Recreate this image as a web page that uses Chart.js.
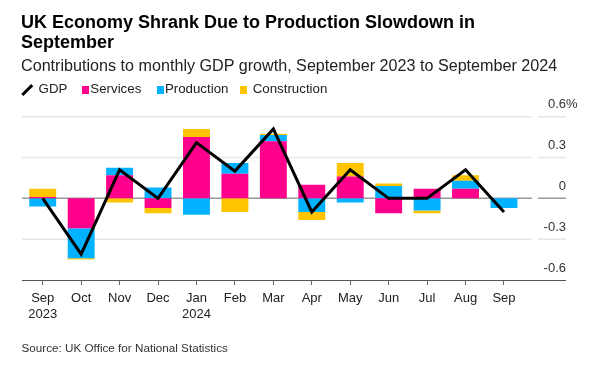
<!DOCTYPE html>
<html>
<head>
<meta charset="utf-8">
<script src="https://cdn.jsdelivr.net/npm/chart.js@4.4.1/dist/chart.umd.min.js"></script>
<style>
  html, body { margin: 0; padding: 0; background: #fff; }
  #wrap { position: relative; width: 599px; height: 366px; overflow: hidden; font-family: "Liberation Sans", Arial, sans-serif; color: #000; }
  #c { position: absolute; left: 0; top: 0; }
  .t { position: absolute; white-space: nowrap; }
  #title { left: 21px; top: 11.5px; font-size: 18px; line-height: 20px; font-weight: bold; }
  #sub { left: 21px; top: 55.6px; font-size: 16.15px; line-height: 19px; color: #222; }
  .lg { top: 81.4px; font-size: 13.3px; line-height: 16px; color: #222; }
  .sw { position: absolute; top: 86.2px; width: 7.7px; height: 7.7px; }
  #slash { position: absolute; left: 26.45px; top: 83.25px; width: 2.5px; height: 13.5px; background: #000; transform: rotate(45deg); }
  #src { left: 21.5px; top: 341px; font-size: 11.7px; line-height: 14px; color: #333; }
</style>
</head>
<body>
<div id="wrap">
  <canvas id="c" width="599" height="366"></canvas>
  <div class="t" id="title">UK Economy Shrank Due to Production Slowdown in<br>September</div>
  <div class="t" id="sub">Contributions to monthly GDP growth, September 2023 to September 2024</div>
  <div id="slash"></div>
  <div class="t lg" style="left:38.6px">GDP</div>
  <div class="sw" style="left:81.5px;background:#ff008c"></div>
  <div class="t lg" style="left:90.3px">Services</div>
  <div class="sw" style="left:156.5px;background:#00b2ff"></div>
  <div class="t lg" style="left:164.9px">Production</div>
  <div class="sw" style="left:239.8px;background:#ffc400"></div>
  <div class="t lg" style="left:252.7px">Construction</div>
  <div class="t" id="src">Source: UK Office for National Statistics</div>
</div>
<script>
const months = ["Sep", "Oct", "Nov", "Dec", "Jan", "Feb", "Mar", "Apr", "May", "Jun", "Jul", "Aug", "Sep"];
const years  = ["2023", "", "", "", "2024", "", "", "", "", "", "", "", ""];
const services     = [0.01, -0.22, 0.17, -0.07, 0.45, 0.18, 0.42, 0.10, 0.16, -0.11, 0.07, 0.07, 0.00];
const production   = [-0.06, -0.22, 0.055, 0.08, -0.12, 0.08, 0.045, -0.10, -0.03, 0.09, -0.09, 0.06, -0.07];
const construction = [0.06, -0.01, -0.03, -0.04, 0.06, -0.10, 0.01, -0.06, 0.10, 0.02, -0.02, 0.04, 0.00];
const gdp          = [0.00, -0.41, 0.21, 0.00, 0.41, 0.20, 0.51, -0.10, 0.21, 0.00, 0.00, 0.21, -0.10];
const yTicks = [-0.6, -0.3, 0, 0.3, 0.6];

const labels = months.map((m, i) => years[i] ? [m, years[i]] : m);
const FONT = '"Liberation Sans", Arial, sans-serif';

function fmt(v) {
  const r = Math.round(v * 10) / 10;
  return r === 0 ? '0' : String(r);
}

const gridPlugin = {
  id: 'gridPlugin',
  beforeDatasetsDraw(chart) {
    const ctx = chart.ctx, y = chart.scales.y;
    ctx.save();
    yTicks.forEach(v => {
      if (v === -0.6) return;
      const py = y.getPixelForValue(v);
      ctx.strokeStyle = v === 0 ? '#999999' : '#e6e6e6';
      ctx.lineWidth = 1.5;
      ctx.beginPath();
      ctx.moveTo(22, py); ctx.lineTo(532, py);
      ctx.moveTo(538, py); ctx.lineTo(566, py);
      ctx.stroke();
    });
    const pb = y.getPixelForValue(-0.6);
    ctx.strokeStyle = '#555555';
    ctx.lineWidth = 1;
    ctx.beginPath();
    ctx.moveTo(22, Math.round(pb) + 0.5); ctx.lineTo(566, Math.round(pb) + 0.5);
    ctx.stroke();
    ctx.restore();
  },
  afterDraw(chart) {
    const ctx = chart.ctx, y = chart.scales.y;
    ctx.save();
    ctx.font = '13px ' + FONT;
    ctx.fillStyle = '#333';
    ctx.textAlign = 'left';
    ctx.textBaseline = 'middle';
    ctx.fillText('%', y.right, y.getPixelForValue(0.6) + y.options.ticks.labelOffset);
    ctx.restore();
  }
};

new Chart(document.getElementById('c'), {
  data: {
    labels: labels,
    datasets: [
      { type: 'line', label: 'GDP', data: gdp, borderColor: '#000', borderWidth: 3, pointRadius: 0, tension: 0, borderJoinStyle: 'miter', stack: 'g', order: 0 },
      { type: 'bar', label: 'Services', data: services, backgroundColor: '#ff008c', stack: 'c', order: 1 },
      { type: 'bar', label: 'Production', data: production, backgroundColor: '#00b2ff', stack: 'c', order: 1 },
      { type: 'bar', label: 'Construction', data: construction, backgroundColor: '#ffc400', stack: 'c', order: 1 }
    ]
  },
  options: {
    responsive: false,
    animation: false,
    devicePixelRatio: 1,
    layout: { padding: { top: 116.7, left: 23.5, right: 33, bottom: 0 } },
    datasets: { bar: { barPercentage: 0.7, categoryPercentage: 1, borderWidth: 0 } },
    plugins: { legend: { display: false }, tooltip: { enabled: false }, title: { display: false } },
    scales: {
      x: {
        stacked: true,
        offset: true,
        afterFit(s) { s.height = 86; },
        border: { display: false },
        grid: { display: true, offset: false, drawOnChartArea: false, drawTicks: true, tickLength: 5, color: '#666', lineWidth: 1 },
        ticks: { autoSkip: false, maxRotation: 0, padding: 5, color: '#222', font: { family: FONT, size: 13, lineHeight: 1.25 } }
      },
      y: {
        stacked: true,
        position: 'right',
        min: -0.6, max: 0.6,
        afterFit(s) { s.width = 42.8; },
        afterBuildTicks(s) { s.ticks = yTicks.map(v => ({ value: v })); },
        border: { display: false },
        grid: { display: false, drawTicks: false },
        ticks: { padding: 4, crossAlign: 'far', labelOffset: -12, color: '#333', font: { family: FONT, size: 13 }, callback: v => fmt(v) }
      }
    }
  },
  plugins: [gridPlugin]
});
</script>
</body>
</html>
